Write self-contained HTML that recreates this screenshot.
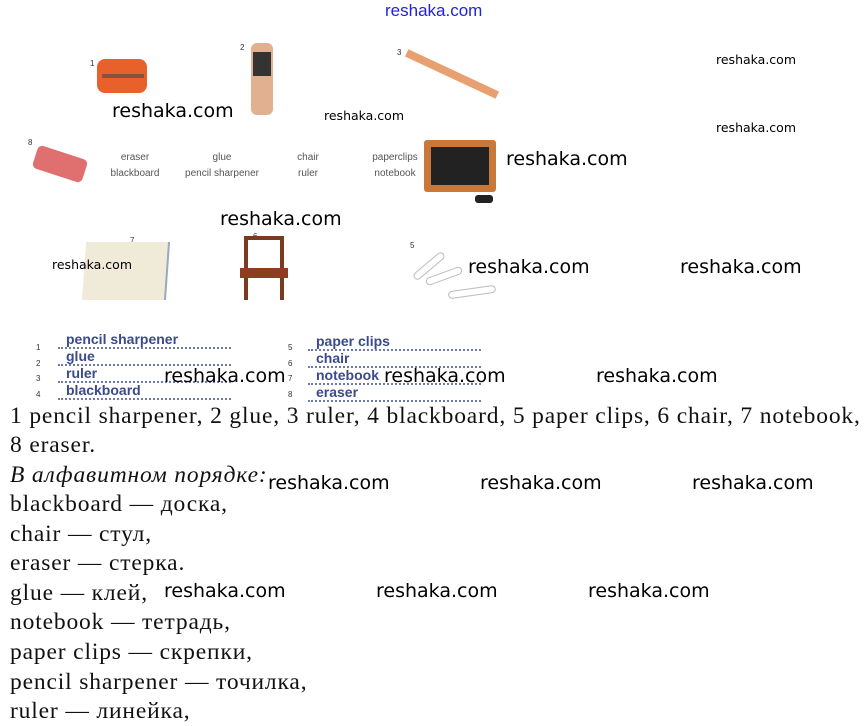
<!DOCTYPE html>
<html><head><meta charset="utf-8"><style>
body{margin:0;width:868px;height:726px;background:#fff;position:relative;overflow:hidden;font-family:"Liberation Sans",sans-serif}
.a{position:absolute;white-space:nowrap}
.wm{font-family:"DejaVu Sans","Liberation Sans",sans-serif;color:#000;font-size:19px}
.ws{font-family:"DejaVu Sans","Liberation Sans",sans-serif;color:#000;font-size:12.5px}
.g{color:#555;font-size:10px;text-align:center;line-height:16px}
.n{font-size:8px;color:#333}
.bl{font-size:14px;color:#3a4a8a;font-weight:bold;border-bottom:2px dotted #6a7ab0;width:165px;padding-left:8px;line-height:15px}
.t{font-family:"Liberation Serif",serif;font-size:23.5px;letter-spacing:0.85px;color:#111;left:10px}
</style></head><body>
<div class="a" style="left:385px;top:1px;color:#2222dd;font-size:17px;">reshaka.com</div>

<div class="a n" style="left:90px;top:59px">1</div>
<div class="a" style="left:97px;top:59px;width:50px;height:34px;background:#e8602a;border-radius:8px"></div>
<div class="a" style="left:102px;top:74px;width:42px;height:4px;background:#8a5040"></div>
<div class="a n" style="left:240px;top:43px">2</div>
<div class="a" style="left:251px;top:43px;width:22px;height:72px;background:#e0b090;border-radius:6px"></div>
<div class="a" style="left:253px;top:52px;width:18px;height:24px;background:#333"></div>
<div class="a n" style="left:397px;top:48px">3</div>
<div class="a" style="left:402px;top:70px;width:100px;height:8px;background:#e8a070;transform:rotate(25deg)"></div>
<div class="a n" style="left:28px;top:138px">8</div>
<div class="a" style="left:34px;top:152px;width:52px;height:24px;background:#e07070;border-radius:5px;transform:rotate(18deg)"></div>
<div class="a n" style="left:430px;top:140px">4</div>
<div class="a" style="left:424px;top:140px;width:72px;height:52px;background:#c87838;border-radius:3px"></div>
<div class="a" style="left:431px;top:147px;width:58px;height:38px;background:#222"></div>
<div class="a" style="left:475px;top:195px;width:18px;height:8px;background:#222;border-radius:3px"></div>
<div class="a g" style="left:100px;top:150px;width:70px">eraser<br>blackboard</div>
<div class="a g" style="left:172px;top:150px;width:100px">glue<br>pencil sharpener</div>
<div class="a g" style="left:278px;top:150px;width:60px">chair<br>ruler</div>
<div class="a g" style="left:355px;top:150px;width:80px">paperclips<br>notebook</div>
<div class="a n" style="left:130px;top:236px">7</div>
<div class="a" style="left:84px;top:242px;width:82px;height:58px;background:#f0ead8;border-right:2px solid #9ab;transform:skewX(-4deg)"></div>
<div class="a n" style="left:253px;top:232px">6</div>
<div class="a" style="left:244px;top:236px;width:40px;height:64px;border:4px solid #7a3a20;border-bottom:none;box-sizing:border-box"></div>
<div class="a" style="left:240px;top:268px;width:48px;height:10px;background:#8a4020"></div>
<div class="a n" style="left:410px;top:241px">5</div>
<div class="a" style="left:410px;top:262px;width:36px;height:6px;border:1px solid #bbb;border-radius:4px;transform:rotate(-40deg)"></div>
<div class="a" style="left:425px;top:272px;width:36px;height:6px;border:1px solid #bbb;border-radius:4px;transform:rotate(-20deg)"></div>
<div class="a" style="left:448px;top:288px;width:46px;height:6px;border:1px solid #bbb;border-radius:4px;transform:rotate(-8deg)"></div>

<div class="a wm" style="left:112px;top:100px">reshaka.com</div>
<div class="a ws" style="left:324px;top:108px">reshaka.com</div>
<div class="a ws" style="left:716px;top:52px">reshaka.com</div>
<div class="a ws" style="left:716px;top:120px">reshaka.com</div>
<div class="a wm" style="left:506px;top:148px">reshaka.com</div>
<div class="a wm" style="left:220px;top:208px">reshaka.com</div>
<div class="a ws" style="left:52px;top:257px">reshaka.com</div>
<div class="a wm" style="left:468px;top:256px">reshaka.com</div>
<div class="a wm" style="left:680px;top:256px">reshaka.com</div>

<div class="a n" style="left:36px;top:340px;line-height:15.5px">1<br>2<br>3<br>4</div>
<div class="a" style="left:58px;top:332px"><div class="bl">pencil sharpener</div><div class="bl">glue</div><div class="bl">ruler</div><div class="bl">blackboard</div></div>
<div class="a n" style="left:288px;top:340px;line-height:15.5px">5<br>6<br>7<br>8</div>
<div class="a" style="left:308px;top:334px"><div class="bl">paper clips</div><div class="bl">chair</div><div class="bl">notebook</div><div class="bl">eraser</div></div>
<div class="a wm" style="left:164px;top:365px">reshaka.com</div>
<div class="a wm" style="left:384px;top:365px">reshaka.com</div>
<div class="a wm" style="left:596px;top:365px">reshaka.com</div>

<div class="a t" style="top:403px">1 pencil sharpener, 2 glue, 3 ruler, 4 blackboard, 5 paper clips, 6 chair, 7 notebook,</div>
<div class="a t" style="top:432px">8 eraser.</div>
<div class="a t" style="top:462px;font-style:italic">В алфавитном порядке:</div>
<div class="a t" style="top:491px">blackboard — доска,</div>
<div class="a t" style="top:521px">chair — стул,</div>
<div class="a t" style="top:550px">eraser — стерка.</div>
<div class="a t" style="top:580px">glue — клей,</div>
<div class="a t" style="top:609px">notebook — тетрадь,</div>
<div class="a t" style="top:639px">paper clips — скрепки,</div>
<div class="a t" style="top:669px">pencil sharpener — точилка,</div>
<div class="a t" style="top:698px">ruler — линейка,</div>
<div class="a wm" style="left:268px;top:472px">reshaka.com</div>
<div class="a wm" style="left:480px;top:472px">reshaka.com</div>
<div class="a wm" style="left:692px;top:472px">reshaka.com</div>
<div class="a wm" style="left:164px;top:580px">reshaka.com</div>
<div class="a wm" style="left:376px;top:580px">reshaka.com</div>
<div class="a wm" style="left:588px;top:580px">reshaka.com</div>
</body></html>
